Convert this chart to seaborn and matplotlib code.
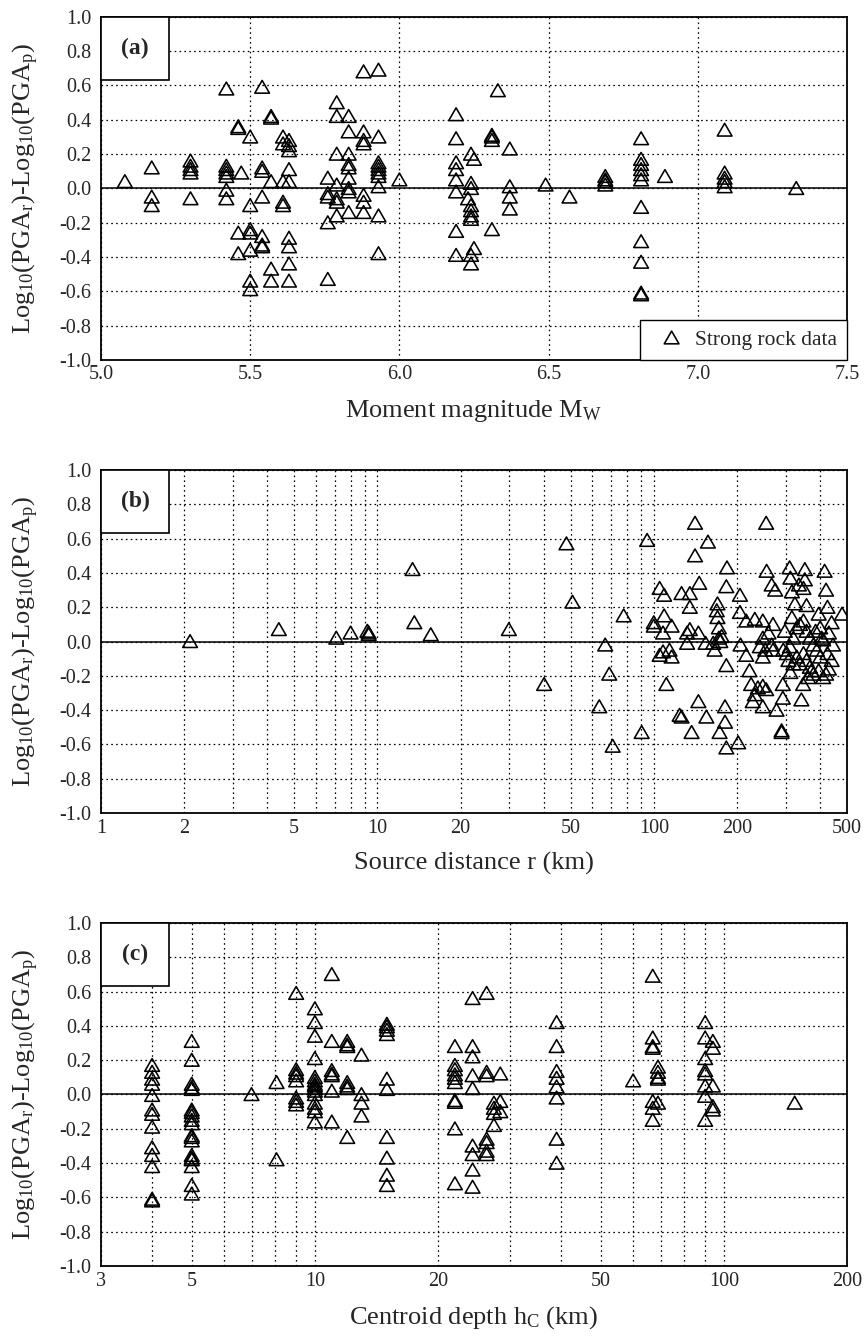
import matplotlib
matplotlib.use('Agg')
import matplotlib.pyplot as plt
import matplotlib.path as mpath
from matplotlib.patches import Rectangle
from matplotlib.ticker import FixedLocator, FixedFormatter, NullFormatter
import seaborn as sns

# ========== data ==========
# (a) residual vs moment magnitude
mw_a = [
    5.08,
    5.17, 5.17, 5.17,
    5.30, 5.30, 5.30, 5.30, 5.30,
    5.42, 5.42, 5.42, 5.42, 5.42, 5.42, 5.42,
    5.46, 5.46, 5.47, 5.46, 5.46,
    5.50, 5.50, 5.50, 5.50, 5.50, 5.50, 5.50,
    5.54, 5.54, 5.54, 5.54, 5.54, 5.54, 5.54,
    5.57, 5.57, 5.57, 5.57, 5.57,
    5.61, 5.61, 5.61, 5.61, 5.61,
    5.63, 5.63, 5.63, 5.63, 5.63, 5.63, 5.63, 5.63, 5.63,
    5.76, 5.76, 5.76, 5.76, 5.76,
    5.79, 5.79, 5.79, 5.79, 5.79, 5.79, 5.79,
    5.83, 5.83, 5.83, 5.83, 5.83, 5.83, 5.83, 5.83, 5.83,
    5.88, 5.88, 5.88, 5.88, 5.88, 5.88, 5.88,
    5.93, 5.93, 5.93, 5.93, 5.93, 5.93, 5.93, 5.93, 5.93, 5.93,
    6.00,
    6.19, 6.19, 6.19, 6.19, 6.19, 6.19, 6.19, 6.19,
    6.24, 6.25, 6.24, 6.24, 6.23, 6.24, 6.24, 6.24, 6.24, 6.25, 6.24, 6.24,
    6.31, 6.31, 6.31, 6.31,
    6.33,
    6.37, 6.37, 6.37, 6.37,
    6.49,
    6.57,
    6.69, 6.69, 6.69, 6.69,
    6.81, 6.81, 6.81, 6.81, 6.81, 6.81, 6.81, 6.81, 6.81, 6.81, 6.81,
    6.89,
    7.09, 7.09, 7.09, 7.09, 7.09,
    7.33,
]
res_a = [
    0.03,
    0.11, -0.06, -0.11,
    0.15, 0.12, 0.10, 0.08, -0.07,
    0.57, 0.12, 0.10, 0.08, 0.06, -0.02, -0.07,
    0.35, 0.34, 0.08, -0.27, -0.39,
    0.29, -0.11, -0.25, -0.27, -0.37, -0.55, -0.60,
    0.58, 0.11, 0.09, -0.06, -0.29, -0.34, -0.35,
    0.41, 0.40, 0.03, -0.48, -0.55,
    0.29, 0.25, 0.03, -0.09, -0.11,
    0.27, 0.24, 0.21, 0.10, 0.03, -0.30, -0.35, -0.45, -0.55,
    0.05, -0.04, -0.06, -0.21, -0.54,
    0.49, 0.41, 0.19, 0.01, -0.07, -0.09, -0.17,
    0.41, 0.32, 0.19, 0.13, 0.11, 0.05, -0.01, -0.03, -0.15,
    0.67, 0.32, 0.27, 0.25, -0.05, -0.09, -0.15,
    0.68, 0.29, 0.14, 0.12, 0.10, 0.08, 0.06, 0.00, -0.17, -0.39,
    0.04,
    0.42, 0.28, 0.14, 0.10, 0.04, -0.03, -0.26, -0.40,
    0.19, 0.16, 0.02, -0.01, -0.07, -0.11, -0.14, -0.17, -0.19, -0.36, -0.40, -0.45,
    0.30, 0.29, 0.27, -0.25,
    0.56,
    0.22, 0.00, -0.06, -0.13,
    0.01,
    -0.06,
    0.06, 0.04, 0.03, 0.01,
    0.28, 0.16, 0.13, 0.10, 0.07, 0.04, -0.12, -0.32, -0.44, -0.62, -0.63,
    0.06,
    0.33, 0.08, 0.05, 0.03, 0.00,
    -0.01,
]

# (b) residual vs source distance (km)
dist_b = [
    2.1, 4.4, 7.1, 8.0, 9.2, 9.3, 9.3, 13.4, 13.6, 15.6,
    29.9, 40.1, 48.3, 50.8, 63.5, 66.7, 69.0, 71.0, 77.8, 90.4, 94.6,
    100, 100, 105, 109, 109, 108, 116, 105, 108, 114, 116, 111,
    126, 135, 146, 135, 135, 132, 132, 145, 141, 141, 157,
    124, 126, 145, 137, 155, 154, 164, 166,
    170, 169, 170, 172, 172, 176, 174,
    184, 183, 183, 181, 181, 173, 183, 202,
    205, 205, 206, 216, 222, 216, 232, 248, 270,
    225, 232, 228, 238, 248, 255, 248,
    242, 253, 248, 267, 270, 260, 248,
    256, 255, 267, 275, 278, 290, 290, 293, 293, 298,
    310, 312, 316, 352, 352, 348, 335, 324, 316, 357, 342, 347, 312,
    294, 303, 311, 320, 329, 338, 348, 357, 367, 378, 389, 400,
    329, 338, 348, 357, 367, 378, 362, 372, 320, 307, 395, 405,
    415, 420, 425, 480, 440, 430, 445, 425, 440, 430, 420, 410, 395, 385, 400, 410,
]
res_b = [
    -0.01, 0.06, 0.01, 0.04, 0.05, 0.04, 0.03, 0.41, 0.10, 0.03,
    0.06, -0.26, 0.56, 0.22, -0.39, -0.03, -0.20, -0.62, 0.14, -0.54, 0.58,
    0.10, 0.08, 0.30, 0.26, 0.14, 0.04, 0.08, -0.09, -0.07, -0.06, -0.10, -0.26,
    0.27, 0.27, 0.33, 0.19, 0.06, 0.04, -0.02, 0.04, 0.49, 0.68, 0.57,
    -0.44, -0.45, -0.36, -0.54, -0.45, -0.02, -0.02, -0.06,
    0.21, 0.17, 0.13, 0.07, 0.01, 0.02, -0.01,
    0.42, 0.31, -0.15, -0.39, -0.48, -0.54, -0.63, -0.60,
    0.26, 0.16, -0.03, -0.09, -0.18, 0.11, 0.12, 0.11, 0.09,
    -0.26, -0.32, -0.36, -0.28, -0.27, -0.29, -0.39,
    -0.04, -0.06, -0.10, -0.03, -0.06, 0.04, 0.01,
    0.40, 0.68, 0.32, 0.29, -0.41, -0.53, -0.54, -0.26, -0.34, 0.05,
    0.42, 0.36, 0.28, 0.41, 0.35, 0.30, 0.32, 0.21, 0.13, 0.20, -0.35, -0.26, -0.19,
    -0.06, -0.08, -0.04, 0.01, 0.07, 0.09, 0.11, 0.05, 0.01, -0.03, -0.06, 0.07,
    -0.10, -0.14, -0.08, -0.12, -0.16, -0.20, -0.22, -0.18, -0.14, -0.12, 0.15, 0.01,
    0.40, 0.29, 0.19, 0.15, 0.10, 0.04, -0.03, -0.08, -0.12, -0.17, -0.20, -0.22, -0.18, 0.05, -0.10, 0.00,
]

# (c) residual vs centroid depth (km)
depth_c = [
    4, 4, 4, 4, 4, 4, 4, 4, 4, 4, 4, 4, 4,
    5, 5, 5, 5, 5, 5, 5, 5, 5, 5, 5, 5, 5, 5, 5, 5, 5, 5, 5,
    7.0,
    8.06, 8.06,
    9, 9, 9, 9, 9, 9, 9, 9,
    10, 10, 10, 10, 10, 10, 10, 10, 10, 10, 10, 10, 10, 10, 10,
    11, 11, 11, 11, 11, 11, 11,
    12, 12, 12, 12, 12, 12, 12,
    13, 13, 13, 13,
    15, 15, 15, 15, 15, 15, 15, 15, 15, 15,
    22, 22, 22, 22, 22, 22, 22, 22, 22, 22,
    24.3, 24.3, 24.3, 24.3, 24.3, 24.3, 24.3, 24.3, 24.3,
    26.3, 26.3, 26.3, 26.3, 26.3, 26.3, 26.3,
    27.4, 27.4, 27.4, 27.4,
    28.4, 28.4, 28.4,
    39, 39, 39, 39, 39, 39, 39, 39,
    60,
    67, 67, 67, 67, 67, 67, 67,
    69, 69, 69, 69, 69,
    90, 90, 90, 90, 90, 90, 90, 90,
    94, 94, 94, 94, 94,
    149,
]
res_c = [
    0.16, 0.12, 0.08, 0.05, -0.015, -0.10, -0.125, -0.20, -0.32, -0.365, -0.43, -0.62, -0.63,
    0.30, 0.19, 0.05, 0.03, 0.02, -0.10, -0.115, -0.135, -0.16, -0.18, -0.25, -0.26, -0.28,
    -0.365, -0.38, -0.39, -0.43, -0.54, -0.59,
    -0.01,
    0.06, -0.39,
    0.58, 0.135, 0.115, 0.10, 0.07, -0.03, -0.05, -0.07,
    0.49, 0.41, 0.33, 0.20, 0.09, 0.07, 0.05, 0.04, 0.025, 0.01, -0.01, -0.06, -0.09, -0.11, -0.17,
    0.69, 0.30, 0.13, 0.11, 0.10, 0.01, -0.17,
    0.30, 0.28, 0.27, 0.06, 0.04, 0.025, -0.26,
    0.22, -0.01, -0.06, -0.135,
    0.40, 0.385, 0.365, 0.34, 0.08, 0.02, -0.26, -0.38, -0.48, -0.54,
    0.27, 0.16, 0.135, 0.105, 0.085, 0.06, -0.045, -0.055, -0.21, -0.53,
    0.55, 0.27, 0.21, 0.10, 0.025, -0.31, -0.36, -0.45, -0.55,
    0.58, 0.12, 0.10, -0.27, -0.29, -0.34, -0.36,
    -0.06, -0.09, -0.12, -0.19,
    0.11, -0.05, -0.11,
    0.41, 0.27, 0.125, 0.085, 0.035, -0.03, -0.27, -0.41,
    0.07,
    0.68, 0.32, 0.27, 0.26, -0.05, -0.09, -0.16,
    0.15, 0.12, 0.09, 0.08, -0.06,
    0.41, 0.32, 0.20, 0.13, 0.11, 0.04, -0.02, -0.16,
    0.30, 0.26, 0.04, -0.08, -0.10,
    -0.06,
]

y_ticks = [-1.0, -0.8, -0.6, -0.4, -0.2, 0.0, 0.2, 0.4, 0.6, 0.8, 1.0]
a_ticks = [5.0, 5.5, 6.0, 6.5, 7.0, 7.5]
b_ticks = [1, 2, 5, 10, 20, 50, 100, 200, 500]
b_grid = [3, 4, 6, 7, 8, 9, 30, 40, 60, 70, 80, 90, 300, 400]
c_ticks = [3, 5, 10, 20, 50, 100, 200]
c_grid = [4, 6, 7, 8, 9, 30, 40, 60, 70, 80, 90]

# ========== style ==========
sns.set_theme(style='white')
plt.rcParams['font.family'] = ['Liberation Serif', 'DejaVu Serif']
plt.rcParams['mathtext.fontset'] = 'custom'
plt.rcParams['mathtext.rm'] = 'Liberation Serif'
plt.rcParams['mathtext.it'] = 'Liberation Serif:italic'
plt.rcParams['mathtext.bf'] = 'Liberation Serif:bold'
plt.rcParams['axes.unicode_minus'] = False

TRI = mpath.Path([(-1, -0.577), (1, -0.577), (0, 1.155), (0, 0)], closed=True)
DOT = (0, (1.3, 2.6))
YLABEL = r'Log$_{\rm 10}$(PGA$_{\rm r}$)-Log$_{\rm 10}$(PGA$_{\rm p}$)'

fig = plt.figure(figsize=(8.64, 13.39), dpi=100)
left, width, height = 0.1169, 0.8634, 0.2562
ax_a = fig.add_axes([left, 0.7312, width, height])
ax_b = fig.add_axes([left, 0.3928, width, height])
ax_c = fig.add_axes([left, 0.0545, width, height])
ax_b.set_xscale('log')
ax_c.set_xscale('log')


def scatter(ax, x, y, label=None):
    sns.scatterplot(x=x, y=y, ax=ax, marker=TRI, s=150, facecolor='none',
                    edgecolor='black', linewidth=1.15, zorder=3, label=label)


def finish(ax, tag, xlabel):
    ax.set_ylim(-1.0, 1.0)
    ax.yaxis.set_major_locator(FixedLocator(y_ticks))
    ax.yaxis.set_major_formatter(FixedFormatter([f'{v:.1f}' for v in y_ticks]))
    ax.grid(True, which='both', axis='x', color='black', linestyle=DOT, linewidth=0.9)
    ax.grid(True, which='major', axis='y', color='black', linestyle=DOT, linewidth=0.9)
    ax.set_axisbelow(True)
    ax.axhline(0.0, color='black', linewidth=1.1, zorder=1)
    ax.tick_params(which='both', length=0, labelsize=14.5)
    ax.tick_params(axis='x', pad=4)
    ax.tick_params(axis='y', pad=7)
    for s in ax.spines.values():
        s.set_color('black')
        s.set_linewidth(1.3)
    ax.set_xlabel(xlabel, fontsize=19)
    ax.set_ylabel(YLABEL, fontsize=19)
    ax.xaxis.set_label_coords(0.5, -0.112)
    ax.yaxis.set_label_coords(-0.080, 0.5)
    bw, bh = 68 / 746, 63 / 343
    ax.add_patch(Rectangle((0, 1 - bh), bw, bh, transform=ax.transAxes,
                           facecolor='white', edgecolor='black', linewidth=1.2,
                           zorder=4, clip_on=False))
    ax.text(bw / 2, 1 - bh / 2, tag, transform=ax.transAxes, ha='center',
            va='center', fontsize=17, fontweight='bold', zorder=5)


# ========== (a) ==========
scatter(ax_a, mw_a, res_a, label='Strong rock data')
ax_a.set_xlim(5.0, 7.5)
ax_a.xaxis.set_major_locator(FixedLocator(a_ticks))
ax_a.xaxis.set_major_formatter(FixedFormatter([f'{v:.1f}' for v in a_ticks]))
finish(ax_a, '(a)', r'Moment magnitude M$_{\rm W}$')
leg = ax_a.legend(loc='lower right', borderaxespad=0, fancybox=False,
                  edgecolor='black', framealpha=1, fontsize=15.5,
                  handlelength=2.0, handletextpad=0.1, borderpad=0.45)
leg.get_frame().set_linewidth(1.0)

# ========== (b) ==========
scatter(ax_b, dist_b, res_b)
ax_b.set_xlim(1, 500)
ax_b.xaxis.set_major_locator(FixedLocator(b_ticks))
ax_b.xaxis.set_major_formatter(FixedFormatter([str(v) for v in b_ticks]))
ax_b.xaxis.set_minor_locator(FixedLocator(b_grid))
ax_b.xaxis.set_minor_formatter(NullFormatter())
finish(ax_b, '(b)', 'Source distance r (km)')

# ========== (c) ==========
scatter(ax_c, depth_c, res_c)
ax_c.set_xlim(3, 200)
ax_c.xaxis.set_major_locator(FixedLocator(c_ticks))
ax_c.xaxis.set_major_formatter(FixedFormatter([str(v) for v in c_ticks]))
ax_c.xaxis.set_minor_locator(FixedLocator(c_grid))
ax_c.xaxis.set_minor_formatter(NullFormatter())
finish(ax_c, '(c)', r'Centroid depth h$_{\rm C}$ (km)')

plt.savefig('out.png', dpi=100)
